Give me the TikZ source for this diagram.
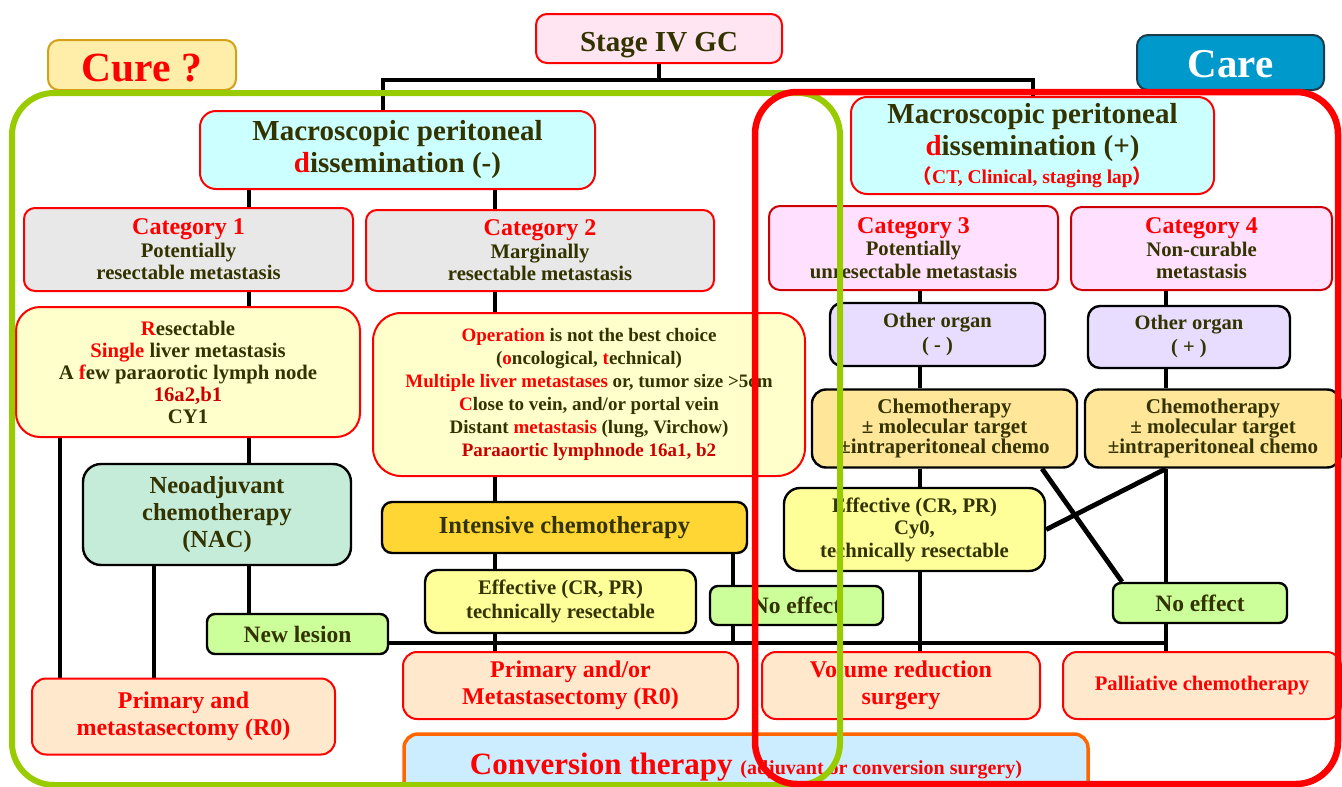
\documentclass[tikz,border=0pt]{standalone}
\usepackage{fontspec}
\setmainfont{Liberation Serif}
\newfontfamily\cjk{Noto Sans CJK SC}
\usetikzlibrary{backgrounds}
\definecolor{dark}{HTML}{333300}
\definecolor{dred}{HTML}{CC0000}
\definecolor{pinkS}{HTML}{FFE4F2}
\definecolor{cyanM}{HTML}{CCFFFF}
\definecolor{grayC}{HTML}{E8E8E8}
\definecolor{pinkC}{HTML}{FFE1FF}
\definecolor{yelR}{HTML}{FFFFCC}
\definecolor{mint}{HTML}{C5EBD9}
\definecolor{gold}{HTML}{FFD633}
\definecolor{yelB}{HTML}{FFFF99}
\definecolor{lime}{HTML}{CCFF99}
\definecolor{lav}{HTML}{E8DCFF}
\definecolor{chemoY}{HTML}{FFE699}
\definecolor{peach}{HTML}{FFE8CC}
\definecolor{blueC}{HTML}{CCECFF}
\definecolor{careB}{HTML}{0099CC}
\definecolor{careD}{HTML}{1C3C4C}
\definecolor{cureY}{HTML}{FFEEAA}
\definecolor{cureD}{HTML}{D4A017}
\definecolor{greenF}{HTML}{99CC00}
\definecolor{orangeB}{HTML}{FF6600}
\newcommand\myfs[2]{\fontsize{#1}{#2}\selectfont\bfseries}
\newcommand\redt[1]{\textcolor{red}{#1}}
\newcommand\dredt[1]{\textcolor{dred}{#1}}
\begin{document}
\begin{tikzpicture}[x=1pt,y=-1pt,
  box/.style={draw, rounded corners=11pt, line width=2pt, inner sep=0pt, align=center, text=dark},
  redbox/.style={box, draw=red},
  blackbox/.style={box, draw=black, line width=2.4pt},
  conn/.style={line width=4.8pt, black},
  frame/.style={line width=6pt, rounded corners=42pt}
]
\useasboundingbox (0,0) rectangle (1342,787);

% column / row coordinates
\coordinate (jL) at (383,80);
\coordinate (jR) at (1033,80);
\coordinate (c60) at (60,0);
\coordinate (c154) at (154,0);
\coordinate (c249) at (249,0);
\coordinate (c495) at (495,0);
\coordinate (c733) at (733,0);
\coordinate (c920) at (920,0);
\coordinate (c1042) at (1042,0);
\coordinate (c1122) at (1122,0);
\coordinate (c1166) at (1166,0);
\coordinate (h643) at (0,643);

% nodes
\node[redbox, fill=pinkS, minimum width=246pt, minimum height=49pt, text height=31pt, text depth=6pt, font=\myfs{29}{32}] (stage) at (659,38.5) {Stage IV GC};
\node[box, draw=cureD, fill=cureY, minimum width=188pt, minimum height=50pt, text height=32pt, text depth=0pt, font=\myfs{41.5}{44}, text=red] (cure) at (142,65) {Cure ?};
\node[box, draw=careD, fill=careB, minimum width=187pt, minimum height=55pt, text height=29pt, text depth=0pt, font=\myfs{41}{44}, text=white] (care) at (1230.5,62.5) {Care};

\node[redbox, fill=cyanM, rounded corners=16pt, minimum width=395pt, minimum height=78pt, font=\myfs{29}{32}] (macroN) at (397.5,150) {Macroscopic peritoneal\\\redt{d}issemination (-)};
\node[redbox, fill=cyanM, rounded corners=16pt, minimum width=363pt, minimum height=97pt, font=\myfs{29}{32}] (macroP) at (1032.5,145.5) {Macroscopic peritoneal\\\redt{d}issemination (+)\\[-4pt]\myfs{19.5}{22}\color{red}{\cjk （}CT, Clinical, staging lap{\cjk ）}};

\node[redbox, fill=grayC, minimum width=329pt, minimum height=83pt, font=\myfs{20.7}{22.5}] (cat1) at (188.5,249.5) {\myfs{24}{24}\redt{Category 1}\\\myfs{20.7}{22.5}Potentially\\\myfs{20.7}{22.5}resectable metastasis};
\node[redbox, fill=grayC, minimum width=348pt, minimum height=81pt, font=\myfs{20.7}{22.5}] (cat2) at (540,250.5) {\myfs{24}{24}\redt{Category 2}\\\myfs{20.7}{22.5}Marginally\\\myfs{20.7}{22.5}resectable metastasis};
\node[box, draw=dred, fill=pinkC, minimum width=289pt, minimum height=84pt, font=\myfs{20.7}{22.5}] (cat3) at (913.5,248) {\myfs{24}{24}\redt{Category 3}\\\myfs{20.7}{22.5}Potentially\\\myfs{20.7}{22.5}unresectable metastasis};
\node[box, draw=dred, fill=pinkC, minimum width=261pt, minimum height=83pt, font=\myfs{20.7}{22.5}] (cat4) at (1201.5,248.5) {\myfs{24}{24}\redt{Category 4}\\\myfs{20.7}{22.5}Non-curable\\\myfs{20.7}{22.5}metastasis};

\node[redbox, fill=yelR, rounded corners=24pt, minimum width=344pt, minimum height=130pt, font=\myfs{20.7}{22}] (res1) at (188,372) {\redt{R}esectable\\\redt{Single} liver metastasis\\A \redt{f}ew paraorotic lymph node\\\dredt{16a2,b1}\\CY1};
\node[redbox, fill=yelR, rounded corners=28pt, minimum width=432pt, minimum height=163pt, font=\myfs{19}{23}] (res2) at (589,394.5) {\redt{Operation} is not the best choice\\(\redt{o}ncological, \redt{t}echnical)\\\redt{Multiple liver metastases} or, tumor size >5cm\\\redt{C}lose to vein, and/or portal vein\\Distant \redt{metastasis} (lung, Virchow)\\\dredt{Paraaortic lymphnode 16a1, b2}};

\node[blackbox, fill=mint, rounded corners=18pt, minimum width=268pt, minimum height=101pt, font=\myfs{24.5}{27}] (nac) at (217,514.5) {Neoadjuvant\\chemotherapy\\(NAC)};
\node[blackbox, fill=gold, rounded corners=10pt, minimum width=365pt, minimum height=51pt, font=\myfs{24.5}{27}] (intensive) at (564.5,527.5) {Intensive chemotherapy};
\node[blackbox, fill=yelB, rounded corners=12pt, minimum width=271pt, minimum height=63pt, font=\myfs{20.7}{24}] (eff2) at (560.5,601.5) {Effective (CR, PR)\\technically resectable};
\node[blackbox, fill=lime, rounded corners=8pt, minimum width=173pt, minimum height=39pt, font=\myfs{23.5}{26}] (noeff2) at (796.5,605.5) {No effect};
\node[blackbox, fill=lime, rounded corners=8pt, minimum width=181pt, minimum height=40pt, font=\myfs{23.5}{26}] (newles) at (297.5,634) {New lesion};

\node[redbox, fill=peach, rounded corners=14pt, minimum width=303pt, minimum height=76pt, font=\myfs{24}{26.5}, text=red] (prim1) at (183.5,716.5) {Primary and\\metastasectomy (R0)};
\node[redbox, fill=peach, rounded corners=14pt, minimum width=335pt, minimum height=67pt, font=\myfs{24}{27}, text=red] (prim2) at (570.5,685.5) {Primary and/or\\Metastasectomy (R0)};
\node[redbox, fill=peach, rounded corners=14pt, minimum width=278pt, minimum height=67pt, font=\myfs{24}{27}, text=red] (volred) at (901,685.5) {Volume reduction\\surgery};
\node[redbox, fill=peach, rounded corners=14pt, minimum width=278pt, minimum height=67pt, font=\myfs{20.7}{24}, text=red] (pall) at (1202,685.5) {Palliative chemotherapy};

\node[blackbox, fill=lav, rounded corners=12pt, minimum width=215pt, minimum height=63pt, font=\myfs{20.5}{24}] (other3) at (937.5,334.5) {Other organ\\( - )};
\node[blackbox, fill=lav, rounded corners=12pt, minimum width=202pt, minimum height=62pt, font=\myfs{20.5}{24}] (other4) at (1189,337) {Other organ\\( + )};
\node[blackbox, fill=chemoY, rounded corners=14pt, minimum width=265pt, minimum height=78pt, font=\myfs{21}{20}] (chemo3) at (944.5,428.5) {Chemotherapy\\± molecular target\\±intraperitoneal chemo};
\node[blackbox, fill=chemoY, rounded corners=14pt, minimum width=256pt, minimum height=78pt, font=\myfs{21}{20}] (chemo4) at (1213,428.5) {Chemotherapy\\± molecular target\\±intraperitoneal chemo};
\node[blackbox, fill=yelB, rounded corners=16pt, minimum width=261pt, minimum height=83pt, font=\myfs{20.7}{22.5}] (eff3) at (914.5,529.5) {Effective (CR, PR)\\Cy0,\\technically resectable};
\node[blackbox, fill=lime, rounded corners=8pt, minimum width=174pt, minimum height=40pt, font=\myfs{23.5}{26}] (noeff4) at (1200,603) {No effect};

\node[box, draw=orangeB, line width=3.5pt, fill=blueC, rounded corners=14pt, minimum width=684pt, minimum height=66pt, text=red] (conv) at (746,767) {\myfs{31}{34}Conversion therapy \myfs{20}{22}(adjuvant or conversion surgery)};

% connectors
\begin{scope}[on background layer]
\fill[white] (0,0) rectangle (1342,787);
\draw[conn] (stage.south) |- (jL) -- (macroN.north -| jL);
\draw[conn] (stage.south) |- (jR) -- (macroP.north -| jR);
\draw[conn] (macroN.south -| c249) -- (cat1.north -| c249);
\draw[conn] (cat1.south -| c249) -- (res1.north -| c249);
\draw[conn] (res1.south -| c249) -- (nac.north -| c249);
\draw[conn] (nac.south -| c249) -- (newles.north -| c249);
\draw[conn] (res1.south -| c60) -- (prim1.north -| c60);
\draw[conn] (nac.south -| c154) -- (prim1.north -| c154);
\draw[conn] (macroN.south -| c495) -- (cat2.north -| c495);
\draw[conn] (cat2.south -| c495) -- (res2.north -| c495);
\draw[conn] (res2.south -| c495) -- (intensive.north -| c495);
\draw[conn] (intensive.south -| c495) -- (eff2.north -| c495);
\draw[conn] (eff2.south -| c495) -- (prim2.north -| c495);
\draw[conn] (intensive.south -| c733) -- (h643 -| c733);
\draw[conn] (newles.east |- h643) -- (h643 -| c1166);
\draw[conn] (cat3.south -| c920) -- (other3.north -| c920);
\draw[conn] (other3.south -| c920) -- (chemo3.north -| c920);
\draw[conn] (chemo3.south -| c920) -- (eff3.north -| c920);
\draw[conn] (eff3.south -| c920) -- (volred.north -| c920);
\draw[conn] (cat4.south -| c1166) -- (other4.north -| c1166);
\draw[conn] (other4.south -| c1166) -- (chemo4.north -| c1166);
\draw[conn] (chemo4.south -| c1166) -- (noeff4.north -| c1166);
\draw[conn] (noeff4.south -| c1166) -- (pall.north -| c1166);
\draw[conn] (chemo3.south -| c1042) -- (noeff4.north -| c1122);
\draw[conn] (chemo4.south -| c1166) -- (eff3.east);
\end{scope}

% frames
\draw[frame, greenF] (12,93) rectangle (840,785);
\draw[frame, red, line width=6.5pt] (755,92) rectangle (1338,784);
\end{tikzpicture}
\end{document}
